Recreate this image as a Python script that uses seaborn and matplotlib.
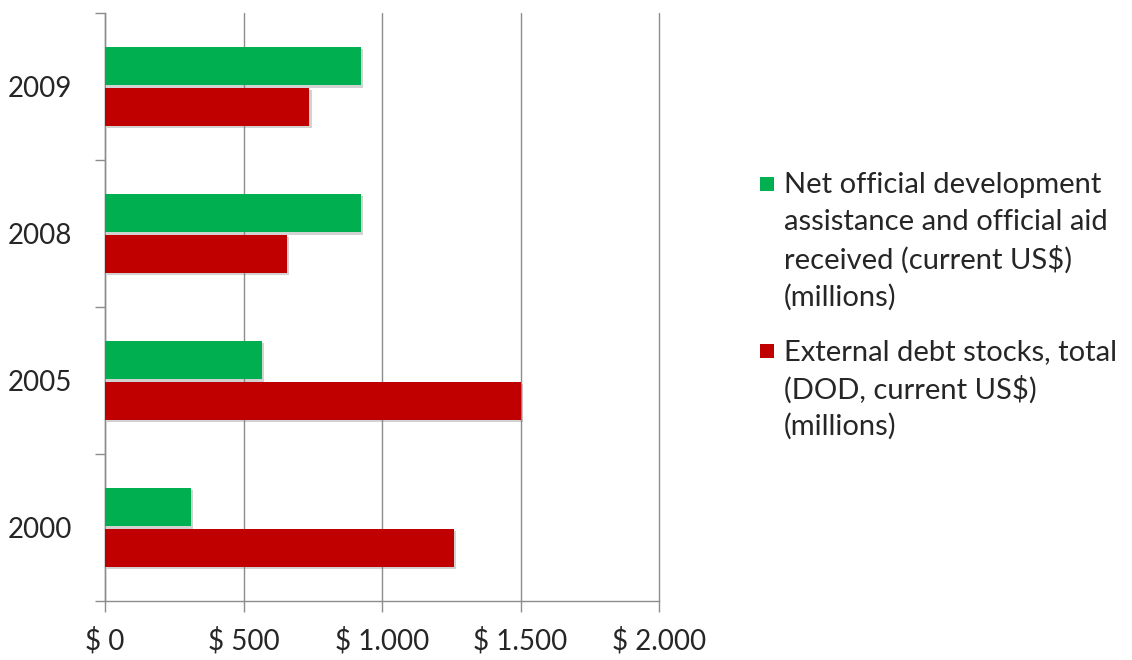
import matplotlib
matplotlib.use("Agg")
import matplotlib.pyplot as plt
import matplotlib.patheffects as pe
from matplotlib.patches import Rectangle
from matplotlib.ticker import FixedLocator
import pandas as pd
import seaborn as sns

# Data (millions of current US$)
years = ["2009", "2008", "2005", "2000"]
aid_received = [925, 925, 566, 310]
external_debt = [738, 657, 1500, 1260]
series_names = [
    "Net official development\nassistance and official aid\nreceived (current US$)\n(millions)",
    "External debt stocks, total\n(DOD, current US$)\n(millions)",
]
x_ticks = [0, 500, 1000, 1500, 2000]
x_tick_labels = ["$ 0", "$ 500", "$ 1.000", "$ 1.500", "$ 2.000"]

colors = ["#00B050", "#C00000"]
grid_color = "#8C8C8C"
text_color = "#262626"

sns.set_theme(style="white")
plt.rcParams["font.family"] = ["Lato", "DejaVu Sans"]

df = pd.DataFrame({
    "year": years * 2,
    "value": aid_received + external_debt,
    "series": [series_names[0]] * len(years) + [series_names[1]] * len(years),
})

fig = plt.figure(figsize=(11.32, 6.6), dpi=100)
ax = fig.add_axes([105 / 1132, 1 - 601 / 660, 554 / 1132, 588 / 660])

sns.barplot(
    data=df, x="value", y="year", hue="series", order=years,
    hue_order=series_names, palette=colors, orient="y",
    width=0.55, gap=0.05, ax=ax, legend=False, saturation=1,
    linewidth=0, zorder=3,
)

shadow = [pe.SimplePatchShadow(offset=(1.5, -1.5), shadow_rgbFace="#7f7f7f", alpha=0.35), pe.Normal()]
for p in ax.patches:
    p.set_path_effects(shadow)

ax.set_xlim(0, 2000)
ax.set_ylim(3.5, -0.5)
ax.set_xticks(x_ticks)
ax.set_xticklabels(x_tick_labels)
ax.set_xlabel("")
ax.set_ylabel("")

# vertical gridlines, drawn in full even at the axis edge
ax.grid(axis="x", color=grid_color, linewidth=1.0, zorder=0)
ax.grid(axis="y", visible=False)
ax.set_axisbelow(True)
for gl in ax.get_xgridlines():
    gl.set_clip_on(False)

for side in ["top", "right"]:
    ax.spines[side].set_visible(False)
for side in ["left", "bottom"]:
    ax.spines[side].set_color(grid_color)
    ax.spines[side].set_linewidth(1.0)

# category separators on the value axis
ax.yaxis.set_minor_locator(FixedLocator([-0.5, 0.5, 1.5, 2.5, 3.5]))
ax.tick_params(axis="y", which="minor", left=True, length=7, width=1.0, color=grid_color)
ax.tick_params(axis="y", which="major", left=True, length=0, pad=24, labelsize=20, labelcolor=text_color)
ax.tick_params(axis="x", which="major", bottom=True, length=8, width=1.0, color=grid_color,
               pad=11, labelsize=20, labelcolor=text_color)

# legend on the right, marker aligned with each entry's first line
legend_x_marker = 760 / 1132
legend_x_text = 784 / 1132
line_step = 37.3
entry_tops = [185, 352]
marker_px = 14
for name, color, y0 in zip(series_names, colors, entry_tops):
    fig.patches.append(Rectangle(
        (legend_x_marker, 1 - (y0 + marker_px / 2 - 1) / 660),
        marker_px / 1132, marker_px / 660,
        transform=fig.transFigure, facecolor=color, edgecolor="none"))
    for i, line in enumerate(name.split("\n")):
        fig.text(legend_x_text, 1 - (y0 + i * line_step) / 660, line,
                 ha="left", va="center", fontsize=21, color=text_color)

fig.savefig("out.png", dpi=100, facecolor="white")
